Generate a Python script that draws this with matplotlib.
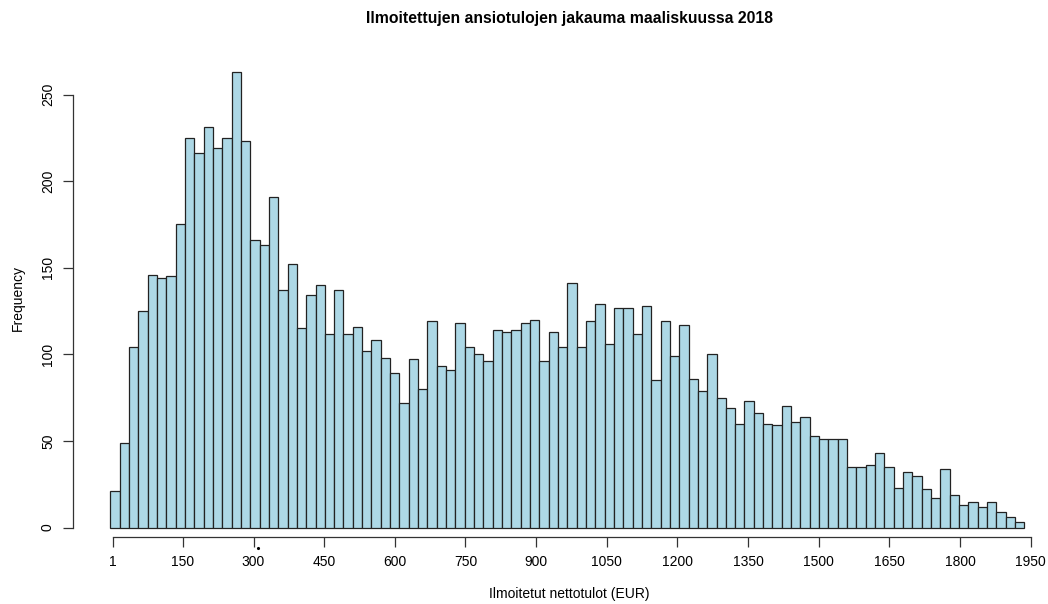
import numpy as np
import matplotlib
matplotlib.use('Agg')
import matplotlib.pyplot as plt

# histogram counts (98 bins)
counts = [21, 49, 104, 125, 146, 144, 145, 175, 225, 216, 231, 219, 225, 263, 223,
          166, 163, 191, 137, 152, 115, 134, 140, 112, 137,
          112, 116, 102, 108, 98, 89, 72, 97, 80, 119, 93, 91, 118, 104, 100, 96,
          114, 113, 114, 118, 120, 96, 113, 104, 141, 104, 119,
          129, 106, 127, 127, 112, 128, 85, 119, 99, 117, 86, 79, 100, 75, 69, 60,
          73, 66, 60, 59, 70, 61, 64, 53, 51, 51, 51,
          35, 35, 36, 43, 35, 23, 32, 30, 22, 17, 34, 19, 13, 15, 12, 15, 9, 6, 3]
bin_start = -4
bin_width = 19.8
x_ticks = [1] + list(range(150, 1951, 150))
y_ticks = [0, 50, 100, 150, 200, 250]

plt.rcParams['font.family'] = ['Liberation Sans', 'DejaVu Sans']

W, H = 1048, 604
fig = plt.figure(figsize=(W / 100, H / 100), dpi=100)
# plot region in pixels
left, right, top, bottom = 73, 1045, 60, 537.3
ax = fig.add_axes([left / W, 1 - bottom / H, (right - left) / W, (bottom - top) / H])

edges = bin_start + bin_width * np.arange(len(counts) + 1)
ax.bar(edges[:-1], counts, width=bin_width, align='edge',
       color='#ADD8E6', edgecolor='#222222', linewidth=0.9)

px_per_x = 0.471
px_per_y = 1.732
ax.set_xlim(1 - (112.7 - left) / px_per_x, 1 + (right - 112.7) / px_per_x)
ax.set_ylim(-(bottom - 527.5) / px_per_y, (527.5 - top) / px_per_y)

for s in ['top', 'right']:
    ax.spines[s].set_visible(False)
ax.spines['bottom'].set_bounds(1, 1950)
ax.spines['left'].set_bounds(0, 250)
for s in ['bottom', 'left']:
    ax.spines[s].set_color('#333333')
    ax.spines[s].set_linewidth(0.9)

ax.set_xticks(x_ticks)
ax.set_xticklabels([str(t) for t in x_ticks])
ax.set_yticks(y_ticks)
ax.set_yticklabels([str(t) for t in y_ticks], rotation=90, va='center')
ax.tick_params(axis='both', length=7, width=0.9, color='#333333', labelsize=10, pad=6)
ax.tick_params(axis='y', pad=6)

# small stray dot under the axis
ax.plot([310], [-12], 'k.', markersize=2.5, clip_on=False)

cx = 569 / W
fig.text(cx, 1 - 18 / H, 'Ilmoitettujen ansiotulojen jakauma maaliskuussa 2018',
         ha='center', va='center', fontsize=11.3, fontweight='bold')
fig.text(cx, 1 - 594 / H, 'Ilmoitetut nettotulot (EUR)', ha='center', va='center', fontsize=10)
fig.text(18 / W, 1 - 298 / H, 'Frequency', ha='center', va='center', rotation=90, fontsize=10)

fig.savefig('out.png', dpi=100)
